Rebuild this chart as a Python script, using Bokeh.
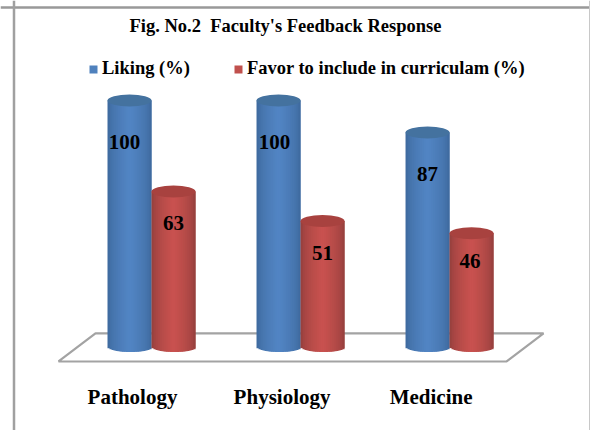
import math
from bokeh.plotting import figure
from bokeh.models import Label, Legend, LegendItem, Span
from bokeh.core.properties import value
from bokeh.embed import file_html
from bokeh.resources import INLINE

# ---- data ----
title = "Fig. No.2\u00a0\u00a0Faculty's Feedback Response"
categories = ["Pathology", "Physiology", "Medicine"]
liking = [100, 100, 87]
favor = [63, 51, 46]
series_names = ["Liking (%)", "Favor to include in curriculam (%)"]
# height at which each printed value sits
liking_label_y = [83, 83, 70]
favor_label_y = [50, 38, 34.6]
liking_label_x = [-0.034, -0.027, 0.0]
favor_label_x = [0.0, 0.0, -0.01]
category_label_x = [-0.1275, -0.124, -0.124]
floor_x = [-0.624, 2.383, 2.631, -0.376]
floor_y = [-6.1, -6.1, 5.3, 5.3]

# ---- styling ----
W, H = 590, 430
BLUE_EDGE, BLUE_MID, BLUE_TOP = (58, 100, 150), (82, 133, 196), "#44729f"
RED_EDGE, RED_MID, RED_TOP = (139, 60, 58), (201, 82, 79), "#a8423f"
SERIF = value("Liberation Serif")
HALF = 22 / 149          # half a cylinder, in category units
RIM = 5.5 / 2.46         # half an end ellipse, in value units
STRIPS = 22

p = figure(width=W, height=H, output_backend="svg", toolbar_location=None,
           x_range=(-1.0134, 2.946), y_range=(-34.15, 140.65),
           min_border=0, outline_line_color=None, background_fill_color="white",
           border_fill_color="white")
p.axis.visible = False
p.grid.visible = False

p.patch(floor_x, floor_y, fill_color="white", line_color="#a3a3a3", line_width=2.2)


def shade(t, edge, mid):
    k = (1 - abs(t)) ** 0.5
    return "#%02x%02x%02x" % tuple(round(e + (m - e) * k) for e, m in zip(edge, mid))


def cylinder(cx, v, edge, mid, top):
    step = 2 * HALF / STRIPS
    lefts, rights, bottoms, colors = [], [], [], []
    for s in range(STRIPS):
        t = (s + 0.5) / STRIPS * 2 - 1
        lefts.append(cx + t * HALF - step / 2)
        rights.append(min(cx + t * HALF + step * 1.5, cx + HALF))
        bottoms.append(-RIM * math.sqrt(1 - t * t))
        colors.append(shade(t, edge, mid))
    p.quad(left=lefts, right=rights, top=[v] * STRIPS, bottom=bottoms,
           fill_color=colors, line_color=None)
    p.ellipse([cx], [v], width=44, height=12, width_units="screen", height_units="screen",
              fill_color=top, line_color=None)


for i in range(len(categories)):
    cylinder(i - HALF, liking[i], BLUE_EDGE, BLUE_MID, BLUE_TOP)
    cylinder(i + HALF, favor[i], RED_EDGE, RED_MID, RED_TOP)

# legend swatches come from zero-size renderers with the series colours
r_blue = p.quad(left=[0], right=[0], top=[0], bottom=[0], fill_color="#4f81bd", line_color=None)
r_red = p.quad(left=[0], right=[0], top=[0], bottom=[0], fill_color="#c0504d", line_color=None)
legend = Legend(items=[LegendItem(label=series_names[0], renderers=[r_blue]),
                       LegendItem(label=series_names[1], renderers=[r_red])],
                orientation="horizontal", location=(88, 351), background_fill_alpha=0,
                border_line_color=None, glyph_width=10, glyph_height=10, label_standoff=4,
                spacing=43, padding=0, margin=0, label_text_font="Liberation Serif",
                label_text_font_style="bold", label_text_font_size="18.5px", label_text_color="black")
p.add_layout(legend, "center")

# printed values
p.text([i - HALF + dx for i, dx in enumerate(liking_label_x)], liking_label_y,
       text=[str(v) for v in liking], text_font=SERIF, text_font_style="bold",
       text_font_size="21px", text_color="black", text_align="center", text_baseline="middle")
p.text([i + HALF + dx for i, dx in enumerate(favor_label_x)], favor_label_y,
       text=[str(v) for v in favor], text_font=SERIF, text_font_style="bold",
       text_font_size="21px", text_color="black", text_align="center", text_baseline="middle")

# category names
p.text([i + dx for i, dx in enumerate(category_label_x)], [-20.7] * 3, text=categories,
       text_font=SERIF, text_font_style="bold", text_font_size="21px", text_color="black",
       text_align="center", text_baseline="middle")

p.add_layout(Label(x=285, y=H - 25, x_units="screen", y_units="screen", text=title,
                   text_font="Liberation Serif", text_font_style="bold", text_font_size="18.5px",
                   text_color="black", text_align="center", text_baseline="middle"))

# picture frame
p.add_layout(Span(location=H - 7, dimension="width", location_units="screen",
                  line_color="#999999", line_width=2.5))
p.add_layout(Span(location=13.5, dimension="height", location_units="screen",
                  line_color="#a0a0a0", line_width=2.5))
p.add_layout(Span(location=589, dimension="height", location_units="screen",
                  line_color="#c8c8c8", line_width=1))

open("out.html", "w").write(file_html(p, INLINE))
